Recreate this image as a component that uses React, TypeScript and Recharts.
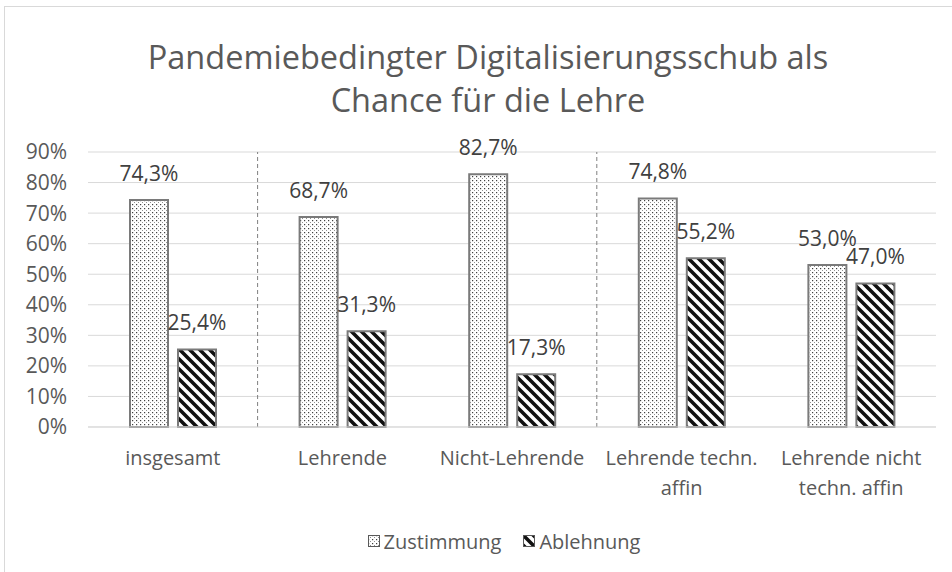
import React from "react";
import {
  BarChart,
  Bar,
  XAxis,
  YAxis,
  CartesianGrid,
  Legend,
  LabelList,
  ReferenceLine,
} from "recharts";

const categories = [
  "insgesamt",
  "Lehrende",
  "Nicht-Lehrende",
  "Lehrende techn. affin",
  "Lehrende nicht techn. affin",
];
const zustimmung = [74.3, 68.7, 82.7, 74.8, 53.0];
const ablehnung = [25.4, 31.3, 17.3, 55.2, 47.0];
const yTicks = [0, 10, 20, 30, 40, 50, 60, 70, 80, 90];
const seriesNames = ["Zustimmung", "Ablehnung"];

const FONT = "'Open Sans', sans-serif";

const data = categories.map((c, i) => ({
  category: c,
  zustimmung: zustimmung[i],
  ablehnung: ablehnung[i],
}));

const fmt = (v: any) => `${Number(v).toFixed(1).replace(".", ",")}%`;

// simple word wrap for the category labels
function wrap(text: string, max: number) {
  const words = text.split(" ");
  const lines: string[] = [];
  let cur = "";
  for (const w of words) {
    const next = cur ? cur + " " + w : w;
    if (next.length > max && cur) {
      lines.push(cur);
      cur = w;
    } else {
      cur = next;
    }
  }
  if (cur) lines.push(cur);
  return lines;
}

const CategoryTick = (props: any) => {
  const { x, y, payload } = props;
  const lines = wrap(payload.value, 15);
  return (
    <text x={x} y={y} textAnchor="middle" fill="#595959" fontSize={20} fontFamily={FONT}>
      {lines.map((l, i) => (
        <tspan key={i} x={x} dy={30}>
          {l}
        </tspan>
      ))}
    </text>
  );
};

const LegendContent = () => (
  <div
    style={{
      display: "flex",
      justifyContent: "center",
      alignItems: "center",
      paddingLeft: 72,
      height: 26,
      fontFamily: FONT,
      fontSize: 20,
      color: "#595959",
    }}
  >
    {seriesNames.map((n, i) => (
      <div key={n} style={{ display: "flex", alignItems: "center", marginRight: i === 0 ? 22 : 0 }}>
        <svg width={12} height={12} style={{ marginRight: 4 }}>
          <rect
            x={0.5}
            y={0.5}
            width={11}
            height={11}
            fill={i === 0 ? "url(#dotPat)" : "url(#stripePat)"}
            stroke="#595959"
            strokeWidth={1}
          />
        </svg>
        <span>{n}</span>
      </div>
    ))}
  </div>
);

export default function App() {
  return (
    <div style={{ position: "absolute", left: 0, top: 0, width: 952, height: 572, background: "#fff", overflow: "hidden" }}>
      <div
        style={{
          position: "absolute",
          left: 4,
          top: 6,
          width: 980,
          height: 600,
          border: "1px solid #d9d9d9",
        }}
      />
      <div
        style={{
          position: "absolute",
          left: 88,
          width: 800,
          top: 35,
          textAlign: "center",
          fontFamily: FONT,
          fontSize: 32.5,
          lineHeight: "43px",
          color: "#595959",
        }}
      >
        Pandemiebedingter Digitalisierungsschub als
        <br />
        Chance für die Lehre
      </div>
      <div style={{ position: "absolute", left: 0, top: 0 }}>
        <BarChart
          width={952}
          height={572}
          data={data}
          margin={{ top: 152, right: 16, left: 0, bottom: 18 }}
          barSize={38}
          barGap={10}
        >
          <defs>
            <pattern id="dotPat" patternUnits="userSpaceOnUse" width={4} height={4}>
              <rect width={4} height={4} fill="#ffffff" />
              <rect x={0} y={0} width={1.2} height={1.2} fill="#404040" />
              <rect x={2} y={2} width={1} height={1} fill="#909090" />
            </pattern>
            <pattern id="stripePat" patternUnits="userSpaceOnUse" width={10} height={10}>
              <rect width={10} height={10} fill="#ffffff" />
              <path d="M-3,7 L3,13 M0,0 L10,10 M7,-3 L13,3" stroke="#111" strokeWidth={3.6} />
            </pattern>
          </defs>
          <CartesianGrid vertical={false} stroke="#d9d9d9" />
          <XAxis
            dataKey="category"
            interval={0}
            tickLine={false}
            axisLine={{ stroke: "#d9d9d9" }}
            height={101}
            tick={<CategoryTick />}
          />
          <YAxis
            domain={[0, 90]}
            ticks={yTicks}
            width={88}
            axisLine={false}
            tickLine={false}
            tickSize={0}
            tickMargin={21}
            tickFormatter={(v: number) => `${v}%`}
            tick={{ fill: "#595959", fontSize: 21, fontFamily: FONT }}
          />
          <ReferenceLine x="Lehrende" position="start" stroke="#7f7f7f" strokeDasharray="4 3" />
          <ReferenceLine x="Lehrende techn. affin" position="start" stroke="#7f7f7f" strokeDasharray="4 3" />
          <Legend verticalAlign="bottom" content={<LegendContent />} />
          <Bar
            dataKey="zustimmung"
            name="Zustimmung"
            fill="url(#dotPat)"
            stroke="#7a7a7a"
            strokeWidth={2}
            isAnimationActive={false}
          >
            <LabelList
              dataKey="zustimmung"
              position="top"
              offset={19}
              formatter={fmt}
              fill="#404040"
              fontSize={21}
              fontFamily={FONT}
            />
          </Bar>
          <Bar
            dataKey="ablehnung"
            name="Ablehnung"
            fill="url(#stripePat)"
            stroke="#7a7a7a"
            strokeWidth={2}
            isAnimationActive={false}
          >
            <LabelList
              dataKey="ablehnung"
              position="top"
              offset={19}
              formatter={fmt}
              fill="#404040"
              fontSize={21}
              fontFamily={FONT}
            />
          </Bar>
        </BarChart>
      </div>
    </div>
  );
}
